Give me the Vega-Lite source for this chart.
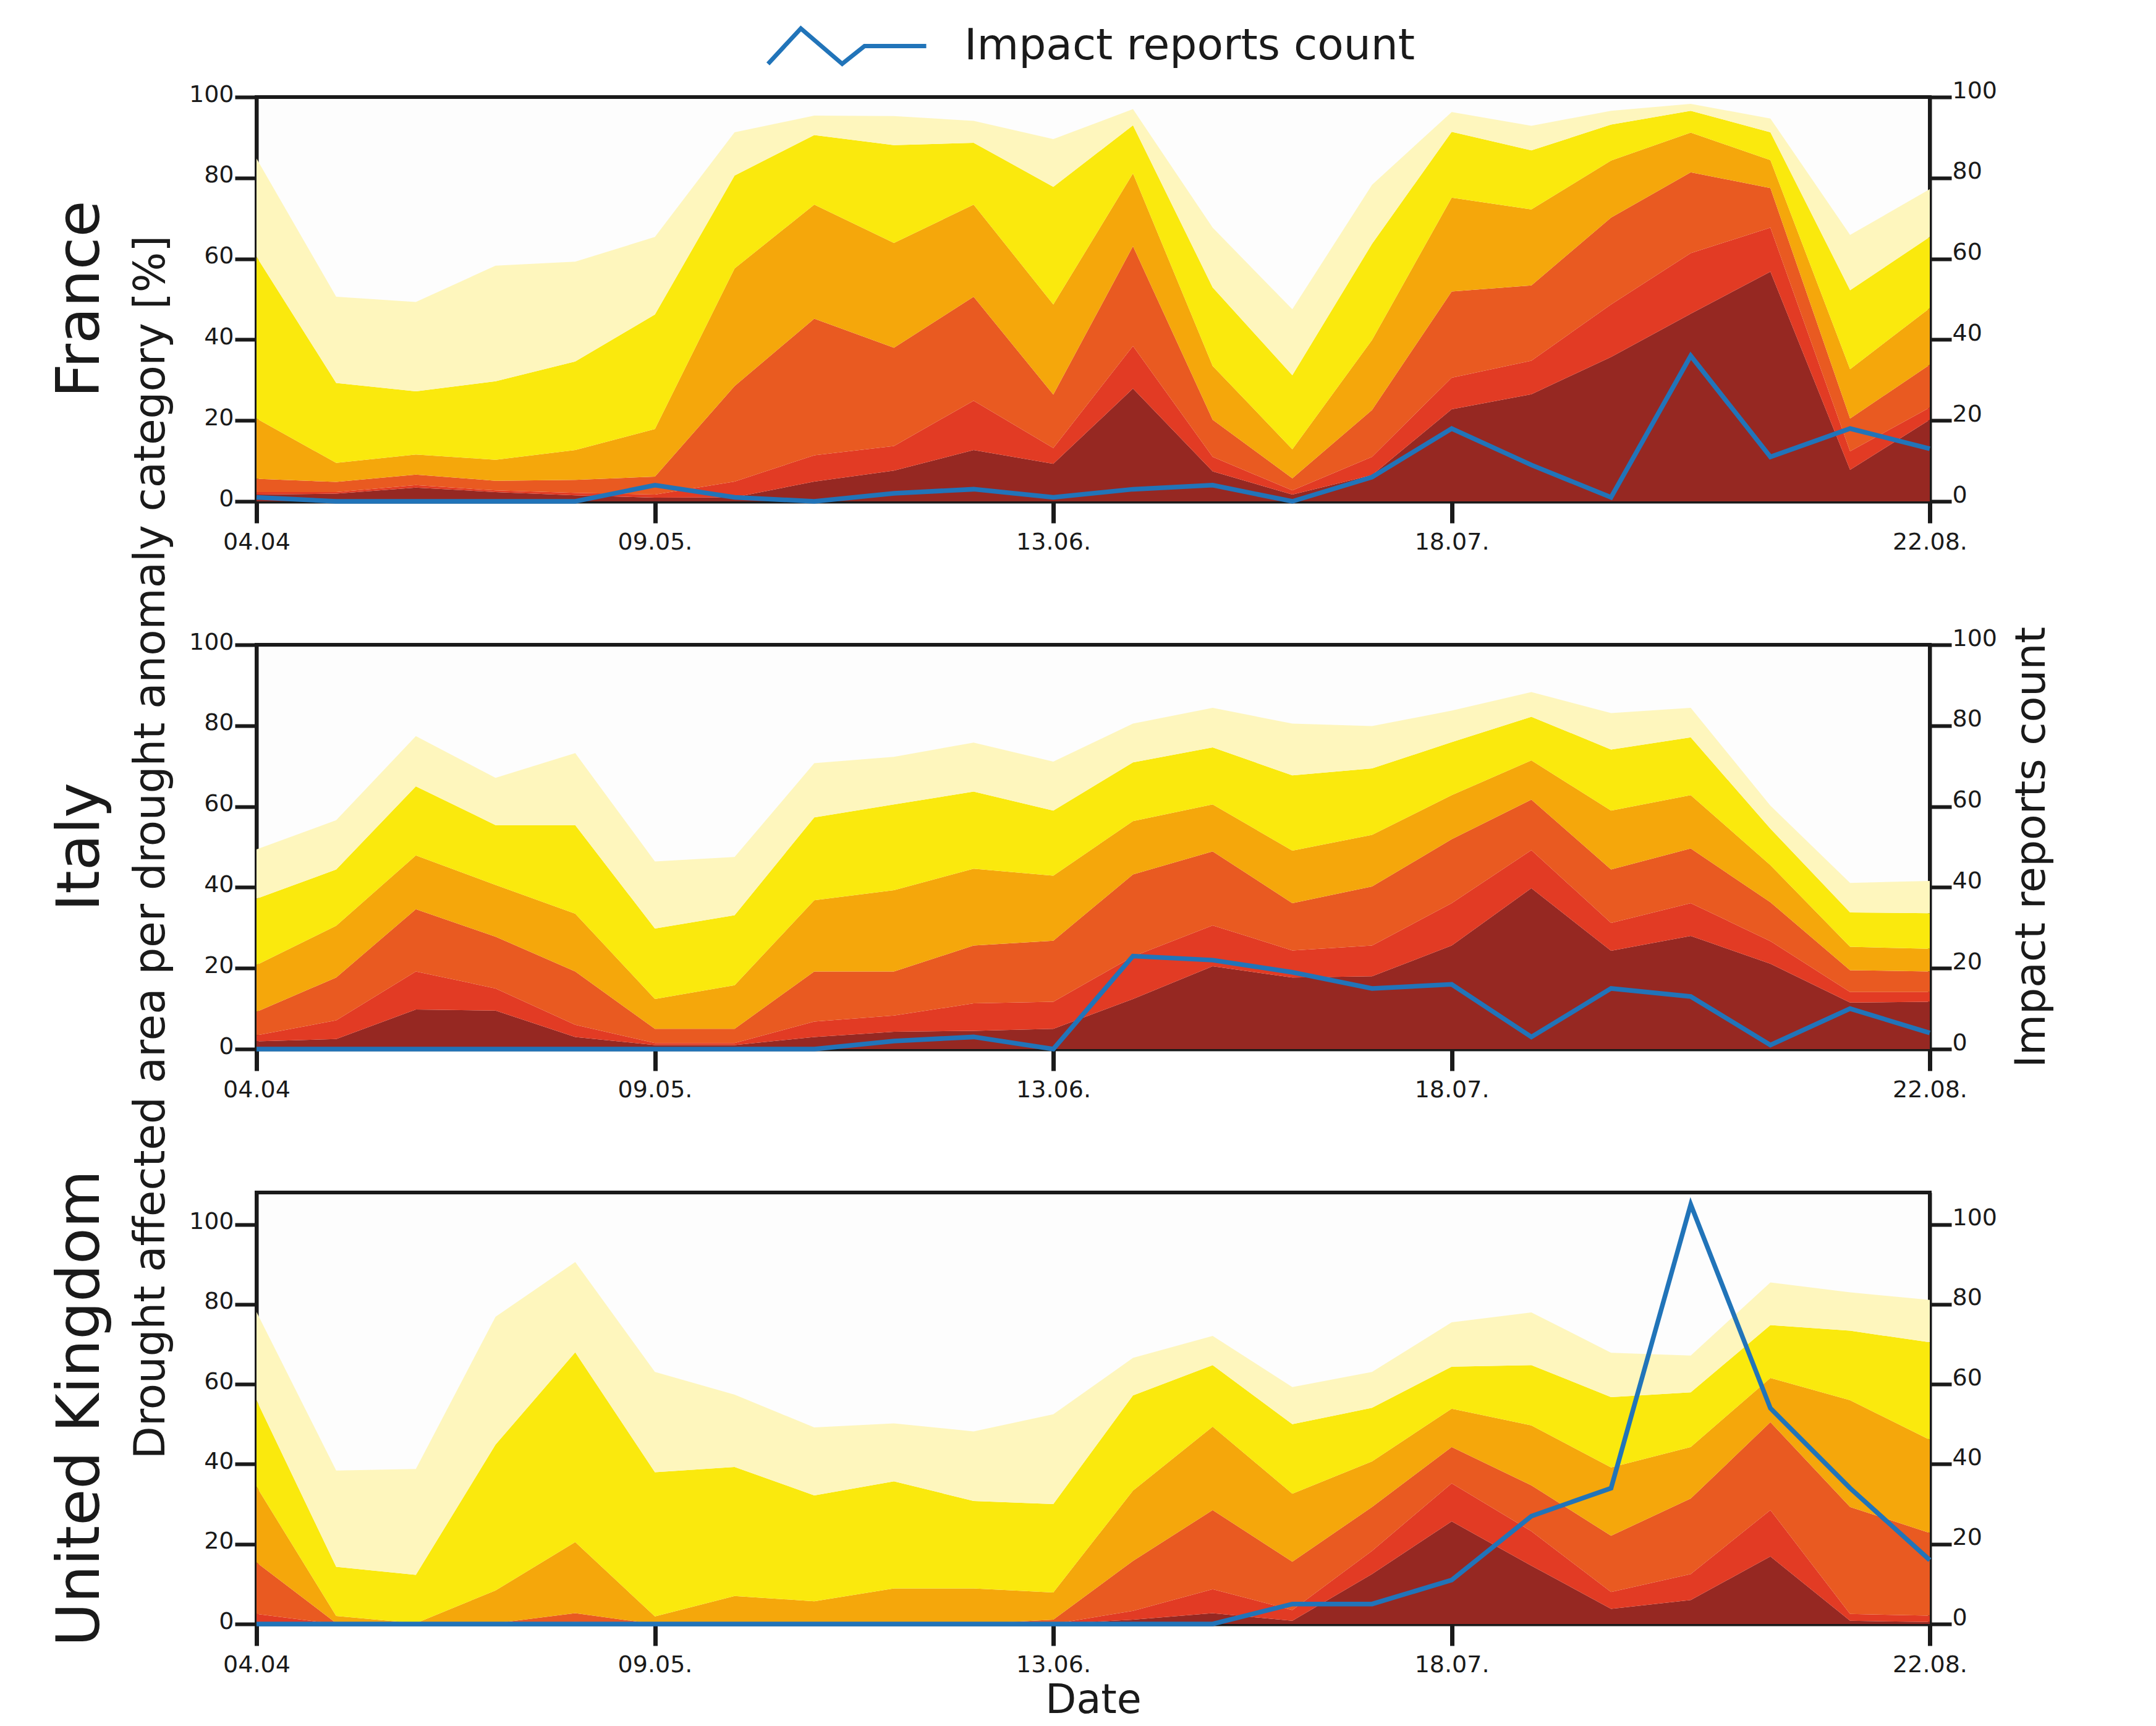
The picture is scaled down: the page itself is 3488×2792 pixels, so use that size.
{
  "$schema": "https://vega.github.io/schema/vega-lite/v6.json",
  "background": "white",
  "autosize": {"type": "pad"},
  "padding": {"left": 80, "top": 36, "right": 20, "bottom": 10},
  "datasets": {
    "areas": [
      {"country":"France","week":0,"category":1,"share":1.7},{"country":"France","week":0,"category":2,"share":0.6},{"country":"France","week":0,"category":3,"share":3.3},{"country":"France","week":0,"category":4,"share":14.9},{"country":"France","week":0,"category":5,"share":40.0},{"country":"France","week":0,"category":6,"share":24.3},
      {"country":"France","week":1,"category":1,"share":1.9},{"country":"France","week":1,"category":2,"share":0.4},{"country":"France","week":1,"category":3,"share":2.5},{"country":"France","week":1,"category":4,"share":4.7},{"country":"France","week":1,"category":5,"share":19.8},{"country":"France","week":1,"category":6,"share":21.3},
      {"country":"France","week":2,"category":1,"share":3.4},{"country":"France","week":2,"category":2,"share":0.6},{"country":"France","week":2,"category":3,"share":2.6},{"country":"France","week":2,"category":4,"share":5.0},{"country":"France","week":2,"category":5,"share":15.6},{"country":"France","week":2,"category":6,"share":22.1},
      {"country":"France","week":3,"category":1,"share":2.3},{"country":"France","week":3,"category":2,"share":0.4},{"country":"France","week":3,"category":3,"share":2.4},{"country":"France","week":3,"category":4,"share":5.2},{"country":"France","week":3,"category":5,"share":19.4},{"country":"France","week":3,"category":6,"share":28.6},
      {"country":"France","week":4,"category":1,"share":1.5},{"country":"France","week":4,"category":2,"share":0.6},{"country":"France","week":4,"category":3,"share":3.2},{"country":"France","week":4,"category":4,"share":7.4},{"country":"France","week":4,"category":5,"share":21.9},{"country":"France","week":4,"category":6,"share":24.7},
      {"country":"France","week":5,"category":1,"share":0.9},{"country":"France","week":5,"category":2,"share":0.8},{"country":"France","week":5,"category":3,"share":4.4},{"country":"France","week":5,"category":4,"share":11.8},{"country":"France","week":5,"category":5,"share":28.3},{"country":"France","week":5,"category":6,"share":19.2},
      {"country":"France","week":6,"category":1,"share":1.0},{"country":"France","week":6,"category":2,"share":3.9},{"country":"France","week":6,"category":3,"share":23.6},{"country":"France","week":6,"category":4,"share":29.1},{"country":"France","week":6,"category":5,"share":23.0},{"country":"France","week":6,"category":6,"share":10.7},
      {"country":"France","week":7,"category":1,"share":4.9},{"country":"France","week":7,"category":2,"share":6.5},{"country":"France","week":7,"category":3,"share":33.8},{"country":"France","week":7,"category":4,"share":28.2},{"country":"France","week":7,"category":5,"share":17.2},{"country":"France","week":7,"category":6,"share":4.8},
      {"country":"France","week":8,"category":1,"share":7.6},{"country":"France","week":8,"category":2,"share":6.1},{"country":"France","week":8,"category":3,"share":24.3},{"country":"France","week":8,"category":4,"share":25.9},{"country":"France","week":8,"category":5,"share":24.2},{"country":"France","week":8,"category":6,"share":7.2},
      {"country":"France","week":9,"category":1,"share":12.7},{"country":"France","week":9,"category":2,"share":12.2},{"country":"France","week":9,"category":3,"share":25.7},{"country":"France","week":9,"category":4,"share":22.8},{"country":"France","week":9,"category":5,"share":15.3},{"country":"France","week":9,"category":6,"share":5.4},
      {"country":"France","week":10,"category":1,"share":9.3},{"country":"France","week":10,"category":2,"share":3.9},{"country":"France","week":10,"category":3,"share":13.2},{"country":"France","week":10,"category":4,"share":22.3},{"country":"France","week":10,"category":5,"share":29.1},{"country":"France","week":10,"category":6,"share":11.8},
      {"country":"France","week":11,"category":1,"share":27.9},{"country":"France","week":11,"category":2,"share":10.5},{"country":"France","week":11,"category":3,"share":24.7},{"country":"France","week":11,"category":4,"share":18.0},{"country":"France","week":11,"category":5,"share":11.9},{"country":"France","week":11,"category":6,"share":4.0},
      {"country":"France","week":12,"category":1,"share":7.4},{"country":"France","week":12,"category":2,"share":3.6},{"country":"France","week":12,"category":3,"share":9.2},{"country":"France","week":12,"category":4,"share":13.3},{"country":"France","week":12,"category":5,"share":19.4},{"country":"France","week":12,"category":6,"share":14.8},
      {"country":"France","week":13,"category":1,"share":1.7},{"country":"France","week":13,"category":2,"share":1.0},{"country":"France","week":13,"category":3,"share":3.0},{"country":"France","week":13,"category":4,"share":7.2},{"country":"France","week":13,"category":5,"share":18.3},{"country":"France","week":13,"category":6,"share":16.3},
      {"country":"France","week":14,"category":1,"share":6.5},{"country":"France","week":14,"category":2,"share":4.5},{"country":"France","week":14,"category":3,"share":11.6},{"country":"France","week":14,"category":4,"share":17.3},{"country":"France","week":14,"category":5,"share":23.8},{"country":"France","week":14,"category":6,"share":14.6},
      {"country":"France","week":15,"category":1,"share":22.8},{"country":"France","week":15,"category":2,"share":7.8},{"country":"France","week":15,"category":3,"share":21.3},{"country":"France","week":15,"category":4,"share":23.2},{"country":"France","week":15,"category":5,"share":16.3},{"country":"France","week":15,"category":6,"share":4.9},
      {"country":"France","week":16,"category":1,"share":26.5},{"country":"France","week":16,"category":2,"share":8.3},{"country":"France","week":16,"category":3,"share":18.6},{"country":"France","week":16,"category":4,"share":18.8},{"country":"France","week":16,"category":5,"share":14.6},{"country":"France","week":16,"category":6,"share":6.1},
      {"country":"France","week":17,"category":1,"share":35.7},{"country":"France","week":17,"category":2,"share":13.0},{"country":"France","week":17,"category":3,"share":21.5},{"country":"France","week":17,"category":4,"share":14.1},{"country":"France","week":17,"category":5,"share":8.9},{"country":"France","week":17,"category":6,"share":3.4},
      {"country":"France","week":18,"category":1,"share":46.4},{"country":"France","week":18,"category":2,"share":15.0},{"country":"France","week":18,"category":3,"share":20.0},{"country":"France","week":18,"category":4,"share":9.8},{"country":"France","week":18,"category":5,"share":5.4},{"country":"France","week":18,"category":6,"share":1.7},
      {"country":"France","week":19,"category":1,"share":56.8},{"country":"France","week":19,"category":2,"share":10.9},{"country":"France","week":19,"category":3,"share":9.8},{"country":"France","week":19,"category":4,"share":6.9},{"country":"France","week":19,"category":5,"share":6.9},{"country":"France","week":19,"category":6,"share":3.4},
      {"country":"France","week":20,"category":1,"share":7.8},{"country":"France","week":20,"category":2,"share":4.6},{"country":"France","week":20,"category":3,"share":8.1},{"country":"France","week":20,"category":4,"share":12.2},{"country":"France","week":20,"category":5,"share":19.5},{"country":"France","week":20,"category":6,"share":13.7},
      {"country":"France","week":21,"category":1,"share":20.2},{"country":"France","week":21,"category":2,"share":3.0},{"country":"France","week":21,"category":3,"share":10.6},{"country":"France","week":21,"category":4,"share":14.0},{"country":"France","week":21,"category":5,"share":17.6},{"country":"France","week":21,"category":6,"share":11.8},

      {"country":"Italy","week":0,"category":1,"share":1.9},{"country":"Italy","week":0,"category":2,"share":1.5},{"country":"Italy","week":0,"category":3,"share":5.8},{"country":"Italy","week":0,"category":4,"share":11.6},{"country":"Italy","week":0,"category":5,"share":16.4},{"country":"Italy","week":0,"category":6,"share":12.2},
      {"country":"Italy","week":1,"category":1,"share":2.5},{"country":"Italy","week":1,"category":2,"share":4.6},{"country":"Italy","week":1,"category":3,"share":10.6},{"country":"Italy","week":1,"category":4,"share":12.8},{"country":"Italy","week":1,"category":5,"share":13.9},{"country":"Italy","week":1,"category":6,"share":12.2},
      {"country":"Italy","week":2,"category":1,"share":9.8},{"country":"Italy","week":2,"category":2,"share":9.4},{"country":"Italy","week":2,"category":3,"share":15.4},{"country":"Italy","week":2,"category":4,"share":13.3},{"country":"Italy","week":2,"category":5,"share":17.1},{"country":"Italy","week":2,"category":6,"share":12.4},
      {"country":"Italy","week":3,"category":1,"share":9.5},{"country":"Italy","week":3,"category":2,"share":5.5},{"country":"Italy","week":3,"category":3,"share":12.8},{"country":"Italy","week":3,"category":4,"share":12.8},{"country":"Italy","week":3,"category":5,"share":14.8},{"country":"Italy","week":3,"category":6,"share":11.7},
      {"country":"Italy","week":4,"category":1,"share":3.0},{"country":"Italy","week":4,"category":2,"share":3.0},{"country":"Italy","week":4,"category":3,"share":13.2},{"country":"Italy","week":4,"category":4,"share":14.3},{"country":"Italy","week":4,"category":5,"share":21.9},{"country":"Italy","week":4,"category":6,"share":17.8},
      {"country":"Italy","week":5,"category":1,"share":1.0},{"country":"Italy","week":5,"category":2,"share":0.5},{"country":"Italy","week":5,"category":3,"share":3.5},{"country":"Italy","week":5,"category":4,"share":7.4},{"country":"Italy","week":5,"category":5,"share":17.4},{"country":"Italy","week":5,"category":6,"share":16.6},
      {"country":"Italy","week":6,"category":1,"share":1.0},{"country":"Italy","week":6,"category":2,"share":0.5},{"country":"Italy","week":6,"category":3,"share":3.5},{"country":"Italy","week":6,"category":4,"share":10.8},{"country":"Italy","week":6,"category":5,"share":17.3},{"country":"Italy","week":6,"category":6,"share":14.4},
      {"country":"Italy","week":7,"category":1,"share":3.0},{"country":"Italy","week":7,"category":2,"share":3.8},{"country":"Italy","week":7,"category":3,"share":12.4},{"country":"Italy","week":7,"category":4,"share":17.6},{"country":"Italy","week":7,"category":5,"share":20.5},{"country":"Italy","week":7,"category":6,"share":13.4},
      {"country":"Italy","week":8,"category":1,"share":4.3},{"country":"Italy","week":8,"category":2,"share":4.0},{"country":"Italy","week":8,"category":3,"share":10.9},{"country":"Italy","week":8,"category":4,"share":20.1},{"country":"Italy","week":8,"category":5,"share":21.2},{"country":"Italy","week":8,"category":6,"share":11.8},
      {"country":"Italy","week":9,"category":1,"share":4.5},{"country":"Italy","week":9,"category":2,"share":6.8},{"country":"Italy","week":9,"category":3,"share":14.3},{"country":"Italy","week":9,"category":4,"share":19.0},{"country":"Italy","week":9,"category":5,"share":19.1},{"country":"Italy","week":9,"category":6,"share":12.1},
      {"country":"Italy","week":10,"category":1,"share":5.0},{"country":"Italy","week":10,"category":2,"share":6.7},{"country":"Italy","week":10,"category":3,"share":15.1},{"country":"Italy","week":10,"category":4,"share":16.1},{"country":"Italy","week":10,"category":5,"share":16.1},{"country":"Italy","week":10,"category":6,"share":12.1},
      {"country":"Italy","week":11,"category":1,"share":12.4},{"country":"Italy","week":11,"category":2,"share":10.5},{"country":"Italy","week":11,"category":3,"share":20.3},{"country":"Italy","week":11,"category":4,"share":13.2},{"country":"Italy","week":11,"category":5,"share":14.5},{"country":"Italy","week":11,"category":6,"share":9.6},
      {"country":"Italy","week":12,"category":1,"share":20.5},{"country":"Italy","week":12,"category":2,"share":10.1},{"country":"Italy","week":12,"category":3,"share":18.3},{"country":"Italy","week":12,"category":4,"share":11.6},{"country":"Italy","week":12,"category":5,"share":14.1},{"country":"Italy","week":12,"category":6,"share":9.8},
      {"country":"Italy","week":13,"category":1,"share":17.7},{"country":"Italy","week":13,"category":2,"share":6.7},{"country":"Italy","week":13,"category":3,"share":11.7},{"country":"Italy","week":13,"category":4,"share":13.0},{"country":"Italy","week":13,"category":5,"share":18.6},{"country":"Italy","week":13,"category":6,"share":12.8},
      {"country":"Italy","week":14,"category":1,"share":18.0},{"country":"Italy","week":14,"category":2,"share":7.6},{"country":"Italy","week":14,"category":3,"share":14.6},{"country":"Italy","week":14,"category":4,"share":12.8},{"country":"Italy","week":14,"category":5,"share":16.4},{"country":"Italy","week":14,"category":6,"share":10.5},
      {"country":"Italy","week":15,"category":1,"share":25.6},{"country":"Italy","week":15,"category":2,"share":10.5},{"country":"Italy","week":15,"category":3,"share":15.8},{"country":"Italy","week":15,"category":4,"share":10.9},{"country":"Italy","week":15,"category":5,"share":13.1},{"country":"Italy","week":15,"category":6,"share":7.8},
      {"country":"Italy","week":16,"category":1,"share":39.8},{"country":"Italy","week":16,"category":2,"share":9.4},{"country":"Italy","week":16,"category":3,"share":12.5},{"country":"Italy","week":16,"category":4,"share":9.7},{"country":"Italy","week":16,"category":5,"share":10.8},{"country":"Italy","week":16,"category":6,"share":6.1},
      {"country":"Italy","week":17,"category":1,"share":24.3},{"country":"Italy","week":17,"category":2,"share":6.9},{"country":"Italy","week":17,"category":3,"share":13.2},{"country":"Italy","week":17,"category":4,"share":14.6},{"country":"Italy","week":17,"category":5,"share":15.1},{"country":"Italy","week":17,"category":6,"share":9.0},
      {"country":"Italy","week":18,"category":1,"share":28.0},{"country":"Italy","week":18,"category":2,"share":8.1},{"country":"Italy","week":18,"category":3,"share":13.5},{"country":"Italy","week":18,"category":4,"share":13.2},{"country":"Italy","week":18,"category":5,"share":14.3},{"country":"Italy","week":18,"category":6,"share":7.3},
      {"country":"Italy","week":19,"category":1,"share":21.1},{"country":"Italy","week":19,"category":2,"share":5.6},{"country":"Italy","week":19,"category":3,"share":9.6},{"country":"Italy","week":19,"category":4,"share":9.2},{"country":"Italy","week":19,"category":5,"share":9.0},{"country":"Italy","week":19,"category":6,"share":5.7},
      {"country":"Italy","week":20,"category":1,"share":11.5},{"country":"Italy","week":20,"category":2,"share":2.6},{"country":"Italy","week":20,"category":3,"share":5.4},{"country":"Italy","week":20,"category":4,"share":5.8},{"country":"Italy","week":20,"category":5,"share":8.5},{"country":"Italy","week":20,"category":6,"share":7.3},
      {"country":"Italy","week":21,"category":1,"share":11.7},{"country":"Italy","week":21,"category":2,"share":2.4},{"country":"Italy","week":21,"category":3,"share":5.1},{"country":"Italy","week":21,"category":4,"share":5.6},{"country":"Italy","week":21,"category":5,"share":8.8},{"country":"Italy","week":21,"category":6,"share":8.0},

      {"country":"United Kingdom","week":0,"category":1,"share":0.5},{"country":"United Kingdom","week":0,"category":2,"share":2.0},{"country":"United Kingdom","week":0,"category":3,"share":12.9},{"country":"United Kingdom","week":0,"category":4,"share":19.0},{"country":"United Kingdom","week":0,"category":5,"share":21.6},{"country":"United Kingdom","week":0,"category":6,"share":22.1},
      {"country":"United Kingdom","week":1,"category":1,"share":0},{"country":"United Kingdom","week":1,"category":2,"share":0},{"country":"United Kingdom","week":1,"category":3,"share":0.2},{"country":"United Kingdom","week":1,"category":4,"share":1.8},{"country":"United Kingdom","week":1,"category":5,"share":12.3},{"country":"United Kingdom","week":1,"category":6,"share":24.1},
      {"country":"United Kingdom","week":2,"category":1,"share":0},{"country":"United Kingdom","week":2,"category":2,"share":0},{"country":"United Kingdom","week":2,"category":3,"share":0},{"country":"United Kingdom","week":2,"category":4,"share":0.2},{"country":"United Kingdom","week":2,"category":5,"share":12.1},{"country":"United Kingdom","week":2,"category":6,"share":26.5},
      {"country":"United Kingdom","week":3,"category":1,"share":0},{"country":"United Kingdom","week":3,"category":2,"share":0},{"country":"United Kingdom","week":3,"category":3,"share":0.2},{"country":"United Kingdom","week":3,"category":4,"share":8.2},{"country":"United Kingdom","week":3,"category":5,"share":36.5},{"country":"United Kingdom","week":3,"category":6,"share":32.0},
      {"country":"United Kingdom","week":4,"category":1,"share":0},{"country":"United Kingdom","week":4,"category":2,"share":0.5},{"country":"United Kingdom","week":4,"category":3,"share":2.2},{"country":"United Kingdom","week":4,"category":4,"share":17.8},{"country":"United Kingdom","week":4,"category":5,"share":47.5},{"country":"United Kingdom","week":4,"category":6,"share":22.6},
      {"country":"United Kingdom","week":5,"category":1,"share":0},{"country":"United Kingdom","week":5,"category":2,"share":0},{"country":"United Kingdom","week":5,"category":3,"share":0},{"country":"United Kingdom","week":5,"category":4,"share":1.9},{"country":"United Kingdom","week":5,"category":5,"share":36.1},{"country":"United Kingdom","week":5,"category":6,"share":25.1},
      {"country":"United Kingdom","week":6,"category":1,"share":0},{"country":"United Kingdom","week":6,"category":2,"share":0},{"country":"United Kingdom","week":6,"category":3,"share":0},{"country":"United Kingdom","week":6,"category":4,"share":7.0},{"country":"United Kingdom","week":6,"category":5,"share":32.3},{"country":"United Kingdom","week":6,"category":6,"share":18.1},
      {"country":"United Kingdom","week":7,"category":1,"share":0},{"country":"United Kingdom","week":7,"category":2,"share":0},{"country":"United Kingdom","week":7,"category":3,"share":0},{"country":"United Kingdom","week":7,"category":4,"share":5.7},{"country":"United Kingdom","week":7,"category":5,"share":26.5},{"country":"United Kingdom","week":7,"category":6,"share":17.0},
      {"country":"United Kingdom","week":8,"category":1,"share":0},{"country":"United Kingdom","week":8,"category":2,"share":0},{"country":"United Kingdom","week":8,"category":3,"share":0},{"country":"United Kingdom","week":8,"category":4,"share":8.9},{"country":"United Kingdom","week":8,"category":5,"share":26.8},{"country":"United Kingdom","week":8,"category":6,"share":14.5},
      {"country":"United Kingdom","week":9,"category":1,"share":0},{"country":"United Kingdom","week":9,"category":2,"share":0},{"country":"United Kingdom","week":9,"category":3,"share":0},{"country":"United Kingdom","week":9,"category":4,"share":8.9},{"country":"United Kingdom","week":9,"category":5,"share":21.9},{"country":"United Kingdom","week":9,"category":6,"share":17.4},
      {"country":"United Kingdom","week":10,"category":1,"share":0},{"country":"United Kingdom","week":10,"category":2,"share":0},{"country":"United Kingdom","week":10,"category":3,"share":1.1},{"country":"United Kingdom","week":10,"category":4,"share":6.8},{"country":"United Kingdom","week":10,"category":5,"share":22.1},{"country":"United Kingdom","week":10,"category":6,"share":22.5},
      {"country":"United Kingdom","week":11,"category":1,"share":1.1},{"country":"United Kingdom","week":11,"category":2,"share":2.2},{"country":"United Kingdom","week":11,"category":3,"share":12.5},{"country":"United Kingdom","week":11,"category":4,"share":17.6},{"country":"United Kingdom","week":11,"category":5,"share":23.8},{"country":"United Kingdom","week":11,"category":6,"share":9.4},
      {"country":"United Kingdom","week":12,"category":1,"share":2.7},{"country":"United Kingdom","week":12,"category":2,"share":6.0},{"country":"United Kingdom","week":12,"category":3,"share":19.8},{"country":"United Kingdom","week":12,"category":4,"share":20.9},{"country":"United Kingdom","week":12,"category":5,"share":15.4},{"country":"United Kingdom","week":12,"category":6,"share":7.3},
      {"country":"United Kingdom","week":13,"category":1,"share":0.8},{"country":"United Kingdom","week":13,"category":2,"share":2.7},{"country":"United Kingdom","week":13,"category":3,"share":12.1},{"country":"United Kingdom","week":13,"category":4,"share":17.0},{"country":"United Kingdom","week":13,"category":5,"share":17.4},{"country":"United Kingdom","week":13,"category":6,"share":9.3},
      {"country":"United Kingdom","week":14,"category":1,"share":12.5},{"country":"United Kingdom","week":14,"category":2,"share":5.8},{"country":"United Kingdom","week":14,"category":3,"share":11.0},{"country":"United Kingdom","week":14,"category":4,"share":11.4},{"country":"United Kingdom","week":14,"category":5,"share":13.4},{"country":"United Kingdom","week":14,"category":6,"share":9.0},
      {"country":"United Kingdom","week":15,"category":1,"share":25.7},{"country":"United Kingdom","week":15,"category":2,"share":9.5},{"country":"United Kingdom","week":15,"category":3,"share":9.1},{"country":"United Kingdom","week":15,"category":4,"share":9.6},{"country":"United Kingdom","week":15,"category":5,"share":10.5},{"country":"United Kingdom","week":15,"category":6,"share":11.1},
      {"country":"United Kingdom","week":16,"category":1,"share":14.6},{"country":"United Kingdom","week":16,"category":2,"share":8.6},{"country":"United Kingdom","week":16,"category":3,"share":11.5},{"country":"United Kingdom","week":16,"category":4,"share":15.0},{"country":"United Kingdom","week":16,"category":5,"share":15.1},{"country":"United Kingdom","week":16,"category":6,"share":13.2},
      {"country":"United Kingdom","week":17,"category":1,"share":3.8},{"country":"United Kingdom","week":17,"category":2,"share":4.2},{"country":"United Kingdom","week":17,"category":3,"share":14.1},{"country":"United Kingdom","week":17,"category":4,"share":17.1},{"country":"United Kingdom","week":17,"category":5,"share":17.6},{"country":"United Kingdom","week":17,"category":6,"share":11.1},
      {"country":"United Kingdom","week":18,"category":1,"share":6.0},{"country":"United Kingdom","week":18,"category":2,"share":6.5},{"country":"United Kingdom","week":18,"category":3,"share":18.9},{"country":"United Kingdom","week":18,"category":4,"share":12.9},{"country":"United Kingdom","week":18,"category":5,"share":13.7},{"country":"United Kingdom","week":18,"category":6,"share":9.2},
      {"country":"United Kingdom","week":19,"category":1,"share":16.9},{"country":"United Kingdom","week":19,"category":2,"share":11.6},{"country":"United Kingdom","week":19,"category":3,"share":22.0},{"country":"United Kingdom","week":19,"category":4,"share":11.1},{"country":"United Kingdom","week":19,"category":5,"share":13.2},{"country":"United Kingdom","week":19,"category":6,"share":10.7},
      {"country":"United Kingdom","week":20,"category":1,"share":0.8},{"country":"United Kingdom","week":20,"category":2,"share":1.7},{"country":"United Kingdom","week":20,"category":3,"share":26.8},{"country":"United Kingdom","week":20,"category":4,"share":26.7},{"country":"United Kingdom","week":20,"category":5,"share":17.4},{"country":"United Kingdom","week":20,"category":6,"share":9.6},
      {"country":"United Kingdom","week":21,"category":1,"share":0.5},{"country":"United Kingdom","week":21,"category":2,"share":1.6},{"country":"United Kingdom","week":21,"category":3,"share":20.7},{"country":"United Kingdom","week":21,"category":4,"share":23.3},{"country":"United Kingdom","week":21,"category":5,"share":24.4},{"country":"United Kingdom","week":21,"category":6,"share":10.6}
    ],
    "reports": [
      {"country":"France","week":0,"count":1},{"country":"France","week":1,"count":0},{"country":"France","week":2,"count":0},{"country":"France","week":3,"count":0},{"country":"France","week":4,"count":0},{"country":"France","week":5,"count":4},{"country":"France","week":6,"count":1},{"country":"France","week":7,"count":0},{"country":"France","week":8,"count":2},{"country":"France","week":9,"count":3},{"country":"France","week":10,"count":1},{"country":"France","week":11,"count":3},{"country":"France","week":12,"count":4},{"country":"France","week":13,"count":0},{"country":"France","week":14,"count":6},{"country":"France","week":15,"count":18},{"country":"France","week":16,"count":9},{"country":"France","week":17,"count":1},{"country":"France","week":18,"count":36},{"country":"France","week":19,"count":11},{"country":"France","week":20,"count":18},{"country":"France","week":21,"count":13},
      {"country":"Italy","week":0,"count":0},{"country":"Italy","week":1,"count":0},{"country":"Italy","week":2,"count":0},{"country":"Italy","week":3,"count":0},{"country":"Italy","week":4,"count":0},{"country":"Italy","week":5,"count":0},{"country":"Italy","week":6,"count":0},{"country":"Italy","week":7,"count":0},{"country":"Italy","week":8,"count":2},{"country":"Italy","week":9,"count":3},{"country":"Italy","week":10,"count":0},{"country":"Italy","week":11,"count":23},{"country":"Italy","week":12,"count":22},{"country":"Italy","week":13,"count":19},{"country":"Italy","week":14,"count":15},{"country":"Italy","week":15,"count":16},{"country":"Italy","week":16,"count":3},{"country":"Italy","week":17,"count":15},{"country":"Italy","week":18,"count":13},{"country":"Italy","week":19,"count":1},{"country":"Italy","week":20,"count":10},{"country":"Italy","week":21,"count":4},
      {"country":"United Kingdom","week":0,"count":0},{"country":"United Kingdom","week":1,"count":0},{"country":"United Kingdom","week":2,"count":0},{"country":"United Kingdom","week":3,"count":0},{"country":"United Kingdom","week":4,"count":0},{"country":"United Kingdom","week":5,"count":0},{"country":"United Kingdom","week":6,"count":0},{"country":"United Kingdom","week":7,"count":0},{"country":"United Kingdom","week":8,"count":0},{"country":"United Kingdom","week":9,"count":0},{"country":"United Kingdom","week":10,"count":0},{"country":"United Kingdom","week":11,"count":0},{"country":"United Kingdom","week":12,"count":0},{"country":"United Kingdom","week":13,"count":5},{"country":"United Kingdom","week":14,"count":5},{"country":"United Kingdom","week":15,"count":11},{"country":"United Kingdom","week":16,"count":27},{"country":"United Kingdom","week":17,"count":34},{"country":"United Kingdom","week":18,"count":105},{"country":"United Kingdom","week":19,"count":54},{"country":"United Kingdom","week":20,"count":34},{"country":"United Kingdom","week":21,"count":16}
    ]
  },
  "spacing": 232,
  "bounds": "flush",
  "resolve": {"scale": {"stroke": "independent"}, "legend": {"stroke": "independent"}},
  "vconcat": [
    {
      "width": 2707, "height": 654,
      "title": {"text": "France", "orient": "left", "anchor": "middle", "frame": "group", "offset": 125, "font": "DejaVu Sans", "fontSize": 96, "fontWeight": "normal", "color": "#1a1a1a"},
      "layer": [
        {
          "data": {"name": "areas"},
          "transform": [{"filter": "datum.country === 'France'"}],
          "mark": {"type": "area"},
          "encoding": {
            "x": {"field": "week", "type": "quantitative", "scale": {"domain": [0, 21], "nice": false, "zero": false},
                  "axis": {"values": [0, 5, 10, 15, 21], "labelExpr": "datum.value == 0 ? '04.04' : datum.value == 5 ? '09.05.' : datum.value == 10 ? '13.06.' : datum.value == 15 ? '18.07.' : '22.08.'", "title": null}},
            "y": {"field": "share", "type": "quantitative", "stack": "zero", "scale": {"domain": [0, 100], "nice": false},
                  "axis": {"orient": "left", "values": [0, 20, 40, 60, 80, 100], "title": null, "labelPadding": 2, "labelBaseline": "alphabetic", "labelOffset": 7, "tickWidth": 6}},
            "fill": {"field": "category", "type": "nominal", "scale": {"domain": [1, 2, 3, 4, 5, 6], "range": ["#962822", "#e23b24", "#e95a21", "#f5a70b", "#fae90d", "#fef6bd"]}, "legend": null},
            "order": {"field": "category", "type": "quantitative", "sort": "ascending"}
          }
        },
        {
          "data": {"name": "reports"},
          "transform": [{"filter": "datum.country === 'France'"}],
          "mark": {"type": "line", "strokeWidth": 7.5, "strokeJoin": "miter"},
          "encoding": {
            "x": {"field": "week", "type": "quantitative"},
            "y": {"field": "count", "type": "quantitative", "scale": {"domain": [0, 100], "nice": false},
                  "axis": {"orient": "right", "values": [0, 20, 40, 60, 80, 100], "title": null, "labelPadding": 1, "labelBaseline": "alphabetic", "labelOffset": 1, "tickWidth": 6}},
            "stroke": {"datum": "Impact reports count", "type": "nominal", "scale": {"range": ["#2174b9"]},
                       "legend": {"orient": "none", "legendX": 920, "legendY": -118, "title": null, "padding": 0,
                                  "symbolType": "M-4,0.9L-2.34,-0.89L-0.25,0.9L0.88,0L4,0", "symbolSize": 4096, "symbolStrokeWidth": 7, "symbolFillColor": "transparent", "symbolStrokeColor": "#2e7cc0",
                                  "labelFont": "DejaVu Sans", "labelFontSize": 69.5, "labelColor": "#1a1a1a", "labelOffset": 154, "labelLimit": 3000}}
          }
        }
      ],
      "resolve": {"scale": {"y": "independent"}}
    },
    {
      "width": 2707, "height": 654,
      "title": {"text": "Italy", "orient": "left", "anchor": "middle", "frame": "group", "offset": 30, "font": "DejaVu Sans", "fontSize": 96, "fontWeight": "normal", "color": "#1a1a1a"},
      "layer": [
        {
          "data": {"name": "areas"},
          "transform": [{"filter": "datum.country === 'Italy'"}],
          "mark": {"type": "area"},
          "encoding": {
            "x": {"field": "week", "type": "quantitative", "scale": {"domain": [0, 21], "nice": false, "zero": false},
                  "axis": {"values": [0, 5, 10, 15, 21], "labelExpr": "datum.value == 0 ? '04.04' : datum.value == 5 ? '09.05.' : datum.value == 10 ? '13.06.' : datum.value == 15 ? '18.07.' : '22.08.'", "title": null}},
            "y": {"field": "share", "type": "quantitative", "stack": "zero", "scale": {"domain": [0, 100], "nice": false},
                  "axis": {"orient": "left", "values": [0, 20, 40, 60, 80, 100], "title": "Drought affected area per drought anomaly category [%]", "titleFontSize": 69, "titlePadding": 26, "labelPadding": 2, "labelBaseline": "alphabetic", "labelOffset": 7, "tickWidth": 6}},
            "fill": {"field": "category", "type": "nominal", "scale": {"domain": [1, 2, 3, 4, 5, 6], "range": ["#962822", "#e23b24", "#e95a21", "#f5a70b", "#fae90d", "#fef6bd"]}, "legend": null},
            "order": {"field": "category", "type": "quantitative", "sort": "ascending"}
          }
        },
        {
          "data": {"name": "reports"},
          "transform": [{"filter": "datum.country === 'Italy'"}],
          "mark": {"type": "line", "strokeWidth": 7.5, "strokeJoin": "miter"},
          "encoding": {
            "x": {"field": "week", "type": "quantitative"},
            "y": {"field": "count", "type": "quantitative", "scale": {"domain": [0, 100], "nice": false},
                  "axis": {"orient": "right", "values": [0, 20, 40, 60, 80, 100], "title": "Impact reports count", "titleAngle": 270, "titleBaseline": "top", "titlePadding": 23, "labelPadding": 1, "labelBaseline": "alphabetic", "labelOffset": 1, "tickWidth": 6}},
            "stroke": {"datum": "Impact reports count", "type": "nominal", "scale": {"range": ["#2174b9"]}, "legend": null}
          }
        }
      ],
      "resolve": {"scale": {"y": "independent"}}
    },
    {
      "width": 2707, "height": 698,
      "title": {"text": "United Kingdom", "orient": "left", "anchor": "middle", "frame": "group", "offset": 125, "font": "DejaVu Sans", "fontSize": 96, "fontWeight": "normal", "color": "#1a1a1a"},
      "layer": [
        {
          "data": {"name": "areas"},
          "transform": [{"filter": "datum.country === 'United Kingdom'"}],
          "mark": {"type": "area"},
          "encoding": {
            "x": {"field": "week", "type": "quantitative", "scale": {"domain": [0, 21], "nice": false, "zero": false},
                  "axis": {"values": [0, 5, 10, 15, 21], "labelExpr": "datum.value == 0 ? '04.04' : datum.value == 5 ? '09.05.' : datum.value == 10 ? '13.06.' : datum.value == 15 ? '18.07.' : '22.08.'", "title": "Date", "titleFontSize": 65, "titlePadding": 7}},
            "y": {"field": "share", "type": "quantitative", "stack": "zero", "scale": {"domain": [0, 108], "nice": false},
                  "axis": {"orient": "left", "values": [0, 20, 40, 60, 80, 100], "title": null, "labelPadding": 2, "labelBaseline": "alphabetic", "labelOffset": 7, "tickWidth": 6}},
            "fill": {"field": "category", "type": "nominal", "scale": {"domain": [1, 2, 3, 4, 5, 6], "range": ["#962822", "#e23b24", "#e95a21", "#f5a70b", "#fae90d", "#fef6bd"]}, "legend": null},
            "order": {"field": "category", "type": "quantitative", "sort": "ascending"}
          }
        },
        {
          "data": {"name": "reports"},
          "transform": [{"filter": "datum.country === 'United Kingdom'"}],
          "mark": {"type": "line", "strokeWidth": 7.5, "strokeJoin": "miter"},
          "encoding": {
            "x": {"field": "week", "type": "quantitative"},
            "y": {"field": "count", "type": "quantitative", "scale": {"domain": [0, 108], "nice": false},
                  "axis": {"orient": "right", "values": [0, 20, 40, 60, 80, 100], "title": null, "labelPadding": 1, "labelBaseline": "alphabetic", "labelOffset": 1, "tickWidth": 6}},
            "stroke": {"datum": "Impact reports count", "type": "nominal", "scale": {"range": ["#2174b9"]}, "legend": null}
          }
        }
      ],
      "resolve": {"scale": {"y": "independent"}}
    }
  ],
  "config": {
    "font": "DejaVu Sans",
    "view": {"stroke": "#1a1a1a", "strokeWidth": 6, "fill": "#fdfdfd"},
    "axis": {
      "domainColor": "#1a1a1a", "domainWidth": 6, "tickColor": "#1a1a1a", "tickWidth": 7, "tickSize": 35,
      "labelFont": "DejaVu Sans", "labelFontSize": 38, "labelColor": "#1a1a1a", "labelOverlap": false, "labelFlush": false, "labelBound": false,
      "grid": false, "titleFont": "DejaVu Sans", "titleFontSize": 68, "titleFontWeight": "normal", "titleColor": "#1a1a1a"
    },
    "axisX": {"labelPadding": 12},
    "legend": {"labelFont": "DejaVu Sans"}
  }
}
